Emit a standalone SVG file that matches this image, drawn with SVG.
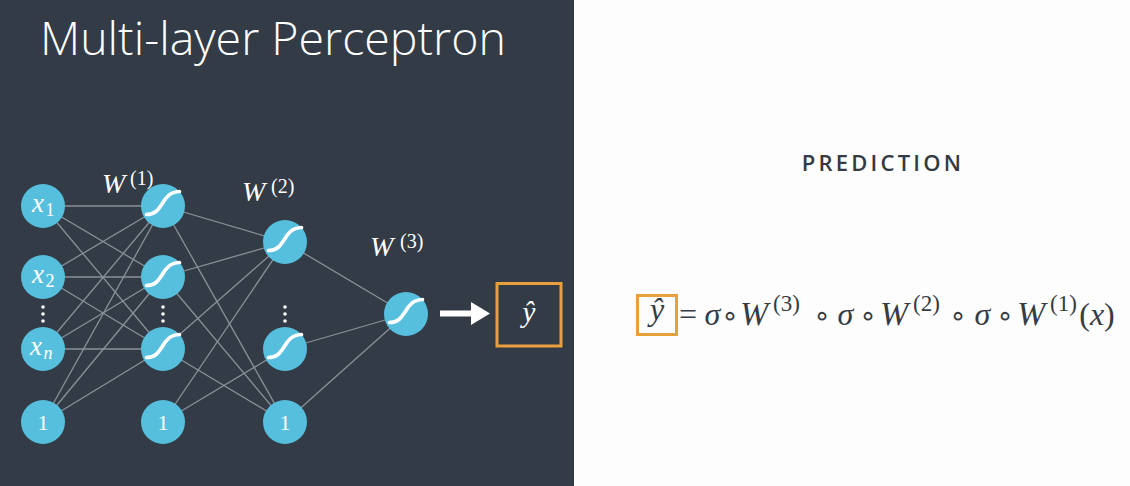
<svg xmlns="http://www.w3.org/2000/svg" width="1130" height="486" viewBox="0 0 1130 486">
  <style>
    .edge { stroke: #8a9199; stroke-width: 1.3; fill: none; }
    .node { fill: #57bfde; }
    .sig { stroke: #ffffff; stroke-width: 3.7; fill: none; stroke-linecap: round; stroke-linejoin: round; }
    .lbl { fill: #ffffff; font-family: "Liberation Serif", "Times New Roman", "DejaVu Serif", serif; }
    .it { font-style: italic; }
    .dot { fill: #ffffff; }
    .math { fill: #363c45; font-family: "Liberation Serif", "Times New Roman", "DejaVu Serif", serif; }
    .op { fill: #363c45; font-family: "DejaVu Sans", sans-serif; }
    .hl { fill: none; stroke: #e8a03c; stroke-width: 3; }
  </style>
  <defs>
    <path id="sigmoid" class="sig" d="M -16.5 8.5 C -8 8.5 -5 4 -1 -2 C 3 -9 7 -14 16.5 -14.5"/>
  </defs>

  <!-- panels -->
  <rect x="0" y="0" width="1130" height="486" fill="#fdfdfd"/>
  <rect x="0" y="0" width="574" height="486" fill="#323b46"/>

  <!-- title -->
  <text x="40" y="55" fill="#ffffff" font-family="'Open Sans', 'Liberation Sans', sans-serif" font-weight="300" font-size="46.5">Multi-layer Perceptron</text>

  <!-- connectors -->
  <g id="connectors">
    <!-- input layer to first hidden layer -->
    <line class="edge" x1="43" y1="206" x2="163" y2="206"/>
    <line class="edge" x1="43" y1="206" x2="163" y2="277"/>
    <line class="edge" x1="43" y1="206" x2="163" y2="349"/>
    <line class="edge" x1="43" y1="277" x2="163" y2="206"/>
    <line class="edge" x1="43" y1="277" x2="163" y2="277"/>
    <line class="edge" x1="43" y1="277" x2="163" y2="349"/>
    <line class="edge" x1="43" y1="349" x2="163" y2="206"/>
    <line class="edge" x1="43" y1="349" x2="163" y2="277"/>
    <line class="edge" x1="43" y1="349" x2="163" y2="349"/>
    <line class="edge" x1="43" y1="422" x2="163" y2="206"/>
    <line class="edge" x1="43" y1="422" x2="163" y2="277"/>
    <line class="edge" x1="43" y1="422" x2="163" y2="349"/>
    <!-- first hidden layer to second hidden layer -->
    <line class="edge" x1="163" y1="206" x2="285" y2="242"/>
    <line class="edge" x1="163" y1="206" x2="285" y2="422"/>
    <line class="edge" x1="163" y1="277" x2="285" y2="242"/>
    <line class="edge" x1="163" y1="277" x2="285" y2="422"/>
    <line class="edge" x1="163" y1="349" x2="285" y2="242"/>
    <line class="edge" x1="163" y1="349" x2="285" y2="422"/>
    <line class="edge" x1="163" y1="422" x2="285" y2="242"/>
    <line class="edge" x1="163" y1="422" x2="285" y2="349"/>
    <!-- second hidden layer to output -->
    <line class="edge" x1="285" y1="242" x2="406" y2="314"/>
    <line class="edge" x1="285" y1="349" x2="406" y2="314"/>
    <line class="edge" x1="285" y1="422" x2="406" y2="314"/>
    <!-- output arrow -->
    <rect x="440" y="310.5" width="34" height="6" fill="#ffffff"/>
    <polygon points="471,302 490,313.5 471,325" fill="#ffffff"/>
  </g>

  <!-- layer weight labels -->
  <g id="w1-label" class="lbl">
    <text x="102" y="193" font-size="28" class="it">W</text>
    <text x="130" y="185" font-size="20">(1)</text>
  </g>
  <g id="w2-label" class="lbl">
    <text x="242" y="201" font-size="28" class="it">W</text>
    <text x="271" y="193" font-size="20">(2)</text>
  </g>
  <g id="w3-label" class="lbl">
    <text x="370" y="256" font-size="28" class="it">W</text>
    <text x="400" y="248" font-size="20">(3)</text>
  </g>

  <!-- input layer -->
  <g id="input-x1">
    <circle class="node" cx="43" cy="206" r="22"/>
    <text class="lbl it" x="32" y="212" font-size="27">x</text>
    <text class="lbl" x="45.5" y="216" font-size="18">1</text>
  </g>
  <g id="input-x2">
    <circle class="node" cx="43" cy="277" r="22"/>
    <text class="lbl it" x="32" y="283" font-size="27">x</text>
    <text class="lbl" x="45.5" y="287" font-size="18">2</text>
  </g>
  <g id="input-dots">
    <circle class="dot" cx="43" cy="307" r="1.8"/>
    <circle class="dot" cx="43" cy="314" r="1.8"/>
    <circle class="dot" cx="43" cy="321" r="1.8"/>
  </g>
  <g id="input-xn">
    <circle class="node" cx="43" cy="349" r="22"/>
    <text class="lbl it" x="30" y="355" font-size="27">x</text>
    <text class="lbl it" x="43.5" y="359" font-size="18">n</text>
  </g>
  <g id="input-bias">
    <circle class="node" cx="43" cy="422" r="22"/>
    <text class="lbl" x="43" y="429.5" font-size="22" text-anchor="middle">1</text>
  </g>

  <!-- first hidden layer -->
  <g id="h1-1">
    <circle class="node" cx="163" cy="206" r="22"/>
    <use href="#sigmoid" x="163" y="206"/>
  </g>
  <g id="h1-2">
    <circle class="node" cx="163" cy="277" r="22"/>
    <use href="#sigmoid" x="163" y="277"/>
  </g>
  <g id="h1-dots">
    <circle class="dot" cx="163" cy="307" r="1.8"/>
    <circle class="dot" cx="163" cy="314" r="1.8"/>
    <circle class="dot" cx="163" cy="321" r="1.8"/>
  </g>
  <g id="h1-3">
    <circle class="node" cx="163" cy="349" r="22"/>
    <use href="#sigmoid" x="163" y="349"/>
  </g>
  <g id="h1-bias">
    <circle class="node" cx="163" cy="422" r="22"/>
    <text class="lbl" x="163" y="429.5" font-size="22" text-anchor="middle">1</text>
  </g>

  <!-- second hidden layer -->
  <g id="h2-1">
    <circle class="node" cx="285" cy="242" r="22"/>
    <use href="#sigmoid" x="285" y="242"/>
  </g>
  <g id="h2-dots">
    <circle class="dot" cx="285" cy="307" r="1.8"/>
    <circle class="dot" cx="285" cy="314" r="1.8"/>
    <circle class="dot" cx="285" cy="321" r="1.8"/>
  </g>
  <g id="h2-2">
    <circle class="node" cx="285" cy="349" r="22"/>
    <use href="#sigmoid" x="285" y="349"/>
  </g>
  <g id="h2-bias">
    <circle class="node" cx="285" cy="422" r="22"/>
    <text class="lbl" x="285" y="429.5" font-size="22" text-anchor="middle">1</text>
  </g>

  <!-- output unit -->
  <g id="output">
    <circle class="node" cx="406" cy="314" r="22"/>
    <use href="#sigmoid" x="406" y="314"/>
  </g>

  <!-- prediction box -->
  <g id="prediction-box">
    <rect class="hl" x="497" y="283.5" width="64" height="62.5"/>
    <text class="lbl it" x="529" y="322" font-size="29" text-anchor="middle">ŷ</text>
  </g>

  <!-- right panel -->
  <text x="883" y="171" fill="#343a43" font-family="'Open Sans', 'Liberation Sans', sans-serif" font-weight="600" font-size="22" letter-spacing="3.2" text-anchor="middle">PREDICTION</text>

  <g id="formula">
    <rect class="hl" x="637.5" y="295.5" width="39" height="39"/>
    <text class="math it" x="657" y="320" font-size="32" text-anchor="middle">ŷ</text>
    <text class="math" x="688" y="325" font-size="32" text-anchor="middle">=</text>
    <text class="math it" x="712.5" y="325" font-size="32" text-anchor="middle">σ</text>
    <text class="op" x="730" y="325" font-size="28" text-anchor="middle">∘</text>
    <text class="math it" x="740" y="325" font-size="34">W</text>
    <text class="math" x="773" y="311" font-size="23">(3)</text>
    <text class="op" x="822" y="325" font-size="28" text-anchor="middle">∘</text>
    <text class="math it" x="845.5" y="325" font-size="32" text-anchor="middle">σ</text>
    <text class="op" x="868" y="325" font-size="28" text-anchor="middle">∘</text>
    <text class="math it" x="880" y="325" font-size="34">W</text>
    <text class="math" x="913" y="311" font-size="23">(2)</text>
    <text class="op" x="958" y="325" font-size="28" text-anchor="middle">∘</text>
    <text class="math it" x="982.5" y="325" font-size="32" text-anchor="middle">σ</text>
    <text class="op" x="1005" y="325" font-size="28" text-anchor="middle">∘</text>
    <text class="math it" x="1017" y="325" font-size="34">W</text>
    <text class="math" x="1050" y="311" font-size="23">(1)</text>
    <text class="math" x="1097" y="325" font-size="32" text-anchor="middle">(<tspan class="it">x</tspan>)</text>
  </g>
</svg>
